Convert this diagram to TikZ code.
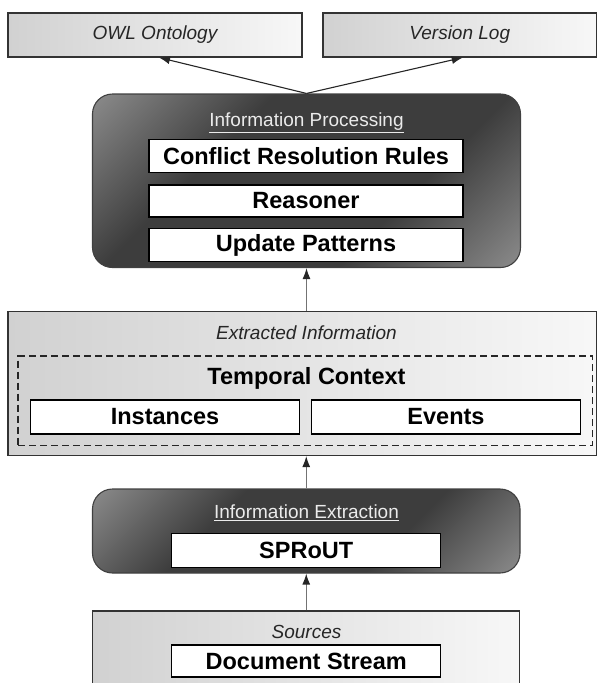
\documentclass[tikz,border=0pt]{standalone}
\usepackage{fontspec}
\setmainfont{Liberation Sans}
\usetikzlibrary{arrows.meta}

% dark panel fill: light corners, dark across the middle
\pgfdeclareverticalshading{darkfade}{100bp}{color(0bp)=(black!36); color(8bp)=(black!36); color(36bp)=(black!76); color(64bp)=(black!76); color(92bp)=(black!36); color(100bp)=(black!36)}

\begin{document}
\begin{tikzpicture}[x=1pt, y=-1pt,
    lightbox/.style={draw=black!80, line width=1.1pt, left color=black!18, right color=black!3, inner sep=0pt},
    darkbox/.style={draw=black!75, line width=1.1pt, rounded corners=20pt, shading=darkfade, shading angle=45, inner sep=0pt},
    itembox/.style={draw=black, line width=1.1pt, fill=white, inner sep=0pt, minimum width=314pt, minimum height=33pt, font=\fontsize{23.5}{26}\selectfont\bfseries},
    tagtext/.style={font=\fontsize{19}{22}\selectfont\itshape, text=black!85},
    boxtitle/.style={font=\fontsize{19}{22}\selectfont, text=black!8},
    flow/.style={draw=black!55, line width=1.3pt, -{Latex[length=11pt,width=8pt,black!85]}},
    feed/.style={draw=black!85, line width=1.1pt, -{Latex[length=11pt,width=8pt]}}]

    \useasboundingbox (0,0) rectangle (597,683);

    % outputs
    \node[lightbox, tagtext, minimum width=294pt, minimum height=44pt] (owl) at (155,35) {OWL Ontology};
    \node[lightbox, tagtext, minimum width=273.5pt, minimum height=44pt] (vlog) at (459.75,35) {Version Log};

    % information processing
    \node[darkbox, minimum width=428pt, minimum height=173.5pt] (infoproc) at (306.5,180.75) {};
    \node[boxtitle] (proctitle) at (306.5,123) {\underline{Information Processing}};
    \node[itembox] (conflict) at (306,156) {Conflict Resolution Rules};
    \node[itembox, minimum height=32pt] (reasoner) at (306,201) {Reasoner};
    \node[itembox] (update) at (306,245) {Update Patterns};

    % extracted information
    \node[lightbox, minimum width=588.5pt, minimum height=144pt] (extracted) at (302.25,383.5) {};
    \node[tagtext] (exttitle) at (306.5,333) {Extracted Information};
    \node[draw=black!85, line width=1.1pt, dash pattern=on 7pt off 4pt, inner sep=0pt,
          minimum width=574.5pt, minimum height=89.5pt] (temporalframe) at (305.25,400.75) {};
    \node[font=\fontsize{23.5}{26}\selectfont\bfseries] (temporal) at (306.5,378) {Temporal Context};
    \node[itembox, minimum width=269pt, minimum height=34pt] (instances) at (165,417) {Instances};
    \node[itembox, minimum width=269pt, minimum height=34pt] (events) at (446,417) {Events};

    % information extraction
    \node[darkbox, minimum width=427.5pt, minimum height=84pt] (infoext) at (306.25,531) {};
    \node[boxtitle] (infoexttitle) at (306.5,513) {\underline{Information Extraction}};
    \node[itembox, minimum width=269pt, minimum height=34pt] (sprout) at (306.2,550.4) {SPRoUT};

    % sources
    \node[lightbox, minimum width=427pt, minimum height=90pt] (sources) at (306.1,656) {};
    \node[tagtext] (srctitle) at (306.5,632) {Sources};
    \node[itembox, minimum width=269pt, minimum height=32pt] (docstream) at (306.2,661) {Document Stream};

    % connectors
    \draw[feed] (infoproc.north) -- ([xshift=4pt]owl.south);
    \draw[feed] (infoproc.north) -- ([xshift=3pt]vlog.south);
    \draw[flow] (extracted.north -| infoproc.south) -- (infoproc.south);
    \draw[flow] (infoext.north) -- (extracted.south -| infoext.north);
    \draw[flow] (sources.north -| infoext.south) -- (infoext.south);

\end{tikzpicture}
\end{document}
